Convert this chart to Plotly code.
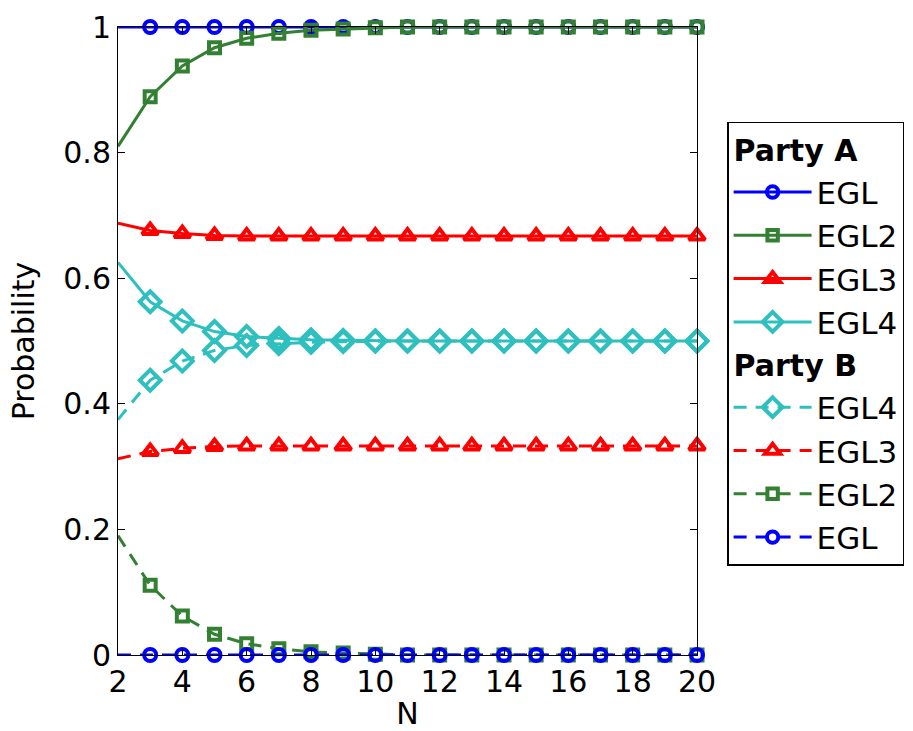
import plotly.graph_objects as go

N = list(range(2, 21))
x_ticks = [2, 4, 6, 8, 10, 12, 14, 16, 18, 20]
y_ticks = [0, 0.2, 0.4, 0.6, 0.8, 1]
y_tick_labels = ["0", "0.2", "0.4", "0.6", "0.8", "1"]

a_egl = [1, 1, 1, 1, 1, 1, 1, 1, 1, 1, 1, 1, 1, 1, 1, 1, 1, 1, 1]
a_egl2 = [0.81, 0.889, 0.938, 0.967, 0.982, 0.99, 0.995, 0.997, 0.999, 1, 1, 1, 1, 1, 1, 1, 1, 1, 1]
a_egl3 = [0.6875, 0.676, 0.671, 0.668, 0.667, 0.667, 0.667, 0.667, 0.667, 0.667, 0.667, 0.667, 0.667, 0.667, 0.667, 0.667, 0.667, 0.667, 0.667]
a_egl4 = [0.625, 0.5625, 0.532, 0.515, 0.507, 0.504, 0.502, 0.501, 0.5, 0.5, 0.5, 0.5, 0.5, 0.5, 0.5, 0.5, 0.5, 0.5, 0.5]
b_egl4 = [0.375, 0.4375, 0.468, 0.485, 0.493, 0.496, 0.498, 0.499, 0.5, 0.5, 0.5, 0.5, 0.5, 0.5, 0.5, 0.5, 0.5, 0.5, 0.5]
b_egl3 = [0.3125, 0.324, 0.329, 0.332, 0.333, 0.333, 0.333, 0.333, 0.333, 0.333, 0.333, 0.333, 0.333, 0.333, 0.333, 0.333, 0.333, 0.333, 0.333]
b_egl2 = [0.19, 0.111, 0.062, 0.033, 0.018, 0.01, 0.005, 0.003, 0.001, 0, 0, 0, 0, 0, 0, 0, 0, 0, 0]
b_egl = [0, 0, 0, 0, 0, 0, 0, 0, 0, 0, 0, 0, 0, 0, 0, 0, 0, 0, 0]

BLUE = "#0000ff"
GREEN = "#338033"
RED = "#ff0000"
CYAN = "#2ebfbf"
FONT = "DejaVu Sans, Liberation Sans, sans-serif"
DASH = "13px,9px"

series = [
    ("A", "EGL", a_egl, BLUE, "circle-open", "solid", 12),
    ("A", "EGL2", a_egl2, GREEN, "square-open", "solid", 11),
    ("A", "EGL3", a_egl3, RED, "triangle-up-open", "solid", 14),
    ("A", "EGL4", a_egl4, CYAN, "diamond-open", "solid", 16),
    ("B", "EGL4", b_egl4, CYAN, "diamond-open", DASH, 16),
    ("B", "EGL3", b_egl3, RED, "triangle-up-open", DASH, 14),
    ("B", "EGL2", b_egl2, GREEN, "square-open", DASH, 11),
    ("B", "EGL", b_egl, BLUE, "circle-open", DASH, 12),
]

fig = go.Figure()
for grp, name, vals, col, sym, dash, ms in series:
    sizes = [0] + [ms] * (len(N) - 1)
    fig.add_trace(go.Scatter(
        x=N, y=vals, name=name, mode="lines+markers",
        legendgroup=grp, cliponaxis=False,
        legendgrouptitle=dict(text="Party " + grp, font=dict(size=30, weight="bold", color="black", family=FONT)),
        line=dict(color=col, width=3, dash=dash),
        marker=dict(symbol=sym, size=sizes, color=col, opacity=1, line=dict(color=col, width=4)),
    ))

axis_common = dict(
    showgrid=False, zeroline=False, showline=True, linecolor="black", linewidth=1,
    mirror="ticks", ticks="inside", ticklen=7, tickcolor="black", tickwidth=1,
    tickfont=dict(size=30, family=FONT, color="black"), automargin=False,
)

fig.update_layout(
    width=913, height=731,
    margin=dict(l=118, r=216, t=27, b=76, autoexpand=False),
    paper_bgcolor="white", plot_bgcolor="white",
    font=dict(family=FONT, color="black", size=30),
    xaxis=dict(range=[2, 20], tickvals=x_ticks, ticktext=[str(v) for v in x_ticks],
               title=dict(text="N", font=dict(size=30), standoff=6), **axis_common),
    yaxis=dict(range=[0, 1], tickvals=y_ticks, ticktext=y_tick_labels,
               title=dict(text="Probability", font=dict(size=30), standoff=19), **axis_common),
    legend=dict(x=1.052, y=0.849, xanchor="left", yanchor="top",
                bordercolor="black", borderwidth=1.5, bgcolor="white",
                tracegroupgap=0, itemwidth=78, font=dict(size=31, family=FONT),
                traceorder="grouped"),
    showlegend=True,
)

fig.write_html("out.html", config={"displayModeBar": False},
               post_script="document.body.style.margin='0';")
